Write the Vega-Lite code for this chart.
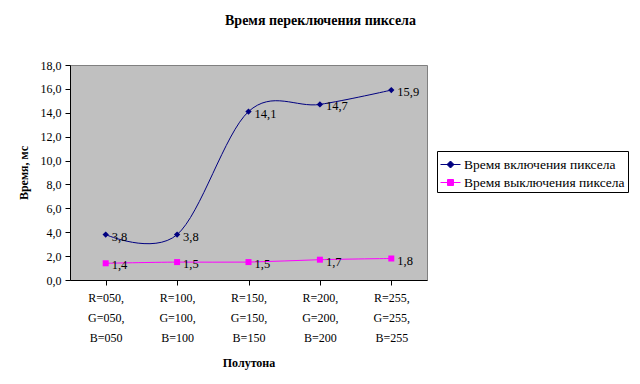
{
  "$schema": "https://vega.github.io/schema/vega-lite/v6.json",
  "width": 357,
  "height": 215,
  "autosize": {"type": "none"},
  "padding": {"left": 70, "top": 65, "right": 213, "bottom": 104},
  "background": "white",
  "config": {
    "locale": {"number": {"decimal": ",", "thousands": " ", "grouping": [3], "currency": ["", ""]}},
    "font": "Liberation Serif",
    "view": {"fill": "#c0c0c0", "stroke": "#808080", "strokeWidth": 1},
    "axis": {
      "labelFont": "Liberation Serif",
      "titleFont": "Liberation Serif",
      "labelColor": "black",
      "titleColor": "black",
      "domainColor": "black",
      "tickColor": "black",
      "labelFontSize": 12,
      "titleFontSize": 12,
      "titleFontWeight": "bold",
      "grid": false
    }
  },
  "title": {
    "text": "Время переключения пиксела",
    "font": "Liberation Serif",
    "fontSize": 14,
    "fontWeight": "bold",
    "anchor": "middle",
    "frame": "group",
    "dx": 72,
    "offset": 31,
    "color": "black"
  },
  "data": {
    "values": [
      {"cat": "R=050, G=050, B=050", "series": "Время включения пиксела", "value": 3.8},
      {"cat": "R=100, G=100, B=100", "series": "Время включения пиксела", "value": 3.8},
      {"cat": "R=150, G=150, B=150", "series": "Время включения пиксела", "value": 14.1},
      {"cat": "R=200, G=200, B=200", "series": "Время включения пиксела", "value": 14.7},
      {"cat": "R=255, G=255, B=255", "series": "Время включения пиксела", "value": 15.9},
      {"cat": "R=050, G=050, B=050", "series": "Время выключения пиксела", "value": 1.4},
      {"cat": "R=100, G=100, B=100", "series": "Время выключения пиксела", "value": 1.5},
      {"cat": "R=150, G=150, B=150", "series": "Время выключения пиксела", "value": 1.5},
      {"cat": "R=200, G=200, B=200", "series": "Время выключения пиксела", "value": 1.7},
      {"cat": "R=255, G=255, B=255", "series": "Время выключения пиксела", "value": 1.8}
    ]
  },
  "encoding": {
    "x": {
      "field": "cat",
      "type": "nominal",
      "sort": null,
      "scale": {"paddingInner": 0, "paddingOuter": 0},
      "axis": {
        "title": "Полутона",
        "labelAngle": 0,
        "bandPosition": 0,
        "labelExpr": "split(datum.label, ' ')",
        "labelLineHeight": 20,
        "labelBaseline": "top",
        "labelPadding": 7,
        "tickSize": 5,
        "titlePadding": 14
      }
    },
    "y": {
      "field": "value",
      "type": "quantitative",
      "scale": {"domain": [0, 18], "nice": false},
      "axis": {
        "title": "Время, мс",
        "values": [0, 2, 4, 6, 8, 10, 12, 14, 16, 18],
        "format": ".1f",
        "tickSize": 5,
        "labelPadding": 4,
        "titlePadding": 10
      }
    },
    "color": {
      "field": "series",
      "type": "nominal",
      "scale": {
        "domain": ["Время включения пиксела", "Время выключения пиксела"],
        "range": ["#000080", "#ff00ff"]
      },
      "legend": {
        "title": null,
        "orient": "none",
        "legendX": 367,
        "legendY": 86,
        "strokeColor": "black",
        "fillColor": "white",
        "padding": 3,
        "rowPadding": 1,
        "labelFont": "Liberation Serif",
        "labelFontSize": 13.5,
        "labelColor": "black",
        "labelLimit": 300,
        "labelOffset": 3,
        "symbolSize": 400,
        "symbolStrokeWidth": 1,
        "encode": {
          "symbols": {
            "update": {
              "shape": {"signal": "datum.value === 'Время включения пиксела' ? 'M-1,0H1M0,-0.35L0.35,0L0,0.35L-0.35,0Z' : 'M-1,0H1M-0.3,-0.3H0.3V0.3H-0.3Z'"},
              "fill": {"scale": "color", "field": "value"},
              "stroke": {"scale": "color", "field": "value"},
              "strokeWidth": {"value": 1},
              "opacity": {"value": 1}
            }
          }
        }
      }
    }
  },
  "layer": [
    {"mark": {"type": "line", "interpolate": "cardinal", "strokeWidth": 1}},
    {
      "transform": [{"filter": "datum.series === 'Время включения пиксела'"}],
      "mark": {"type": "point", "shape": "diamond", "filled": true, "size": 40, "opacity": 1}
    },
    {
      "transform": [{"filter": "datum.series === 'Время выключения пиксела'"}],
      "mark": {"type": "square", "size": 36, "opacity": 1}
    },
    {
      "mark": {"type": "text", "align": "left", "baseline": "middle", "dx": 6, "dy": 2, "fontSize": 12.5, "font": "Liberation Serif"},
      "encoding": {
        "text": {"field": "value", "type": "quantitative", "format": ".1f"},
        "color": {"value": "black"}
      }
    }
  ]
}
